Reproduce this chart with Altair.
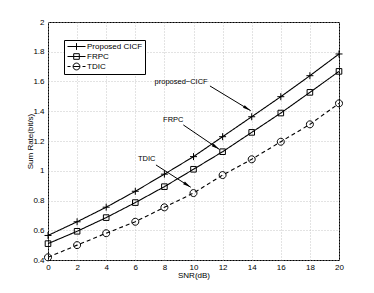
import altair as alt
import pandas as pd

# ---- data ----
snr = [0, 2, 4, 6, 8, 10, 12, 14, 16, 18, 20]
cicf = [0.565, 0.657, 0.755, 0.862, 0.977, 1.095, 1.229, 1.363, 1.498, 1.639, 1.785]
frpc = [0.51, 0.593, 0.685, 0.786, 0.893, 1.01, 1.128, 1.258, 1.388, 1.527, 1.668]
tdic = [0.418, 0.50, 0.58, 0.657, 0.754, 0.85, 0.971, 1.077, 1.195, 1.312, 1.453]
series_names = ["Proposed CICF", "FRPC", "TDIC"]

x_ticks = [0, 2, 4, 6, 8, 10, 12, 14, 16, 18, 20]
y_ticks = [0.4, 0.6, 0.8, 1.0, 1.2, 1.4, 1.6, 1.8, 2.0]

# annotations (text label, label position, arrow start, arrow tip)
ann_text = ["proposed\u2212CICF", "FRPC", "TDIC"]
ann_tx = [9.15, 8.61, 6.78]
ann_ty = [1.595, 1.341, 1.077]
arr_x1 = [11.13, 9.30, 7.42]
arr_y1 = [1.570, 1.308, 1.039]
arr_x2 = [13.93, 11.77, 9.81]
arr_y2 = [1.404, 1.144, 0.889]
arr_angle = [121.3, 124.0, 122.7]

rows = []
for name, vals in zip(series_names, [cicf, frpc, tdic]):
    for s, v in zip(snr, vals):
        rows.append({"series": name, "snr": s, "rate": v})
df = pd.DataFrame(rows)

ann = pd.DataFrame({"text": ann_text, "tx": ann_tx, "ty": ann_ty,
                    "x1": arr_x1, "y1": arr_y1, "x2": arr_x2, "y2": arr_y2,
                    "angle": arr_angle})

FONT = "Liberation Sans"

xaxis = alt.Axis(values=x_ticks, title="SNR(dB)", format="~g",
                 labelOverlap=False, labelFlush=False,
                 labelPadding=3, titlePadding=0)
yaxis = alt.Axis(values=y_ticks, title="Sum Rate(bit/s)", format="~g",
                 labelOverlap=False, labelFlush=False,
                 labelPadding=4, titlePadding=-2)
xscale = alt.Scale(domain=[0, 20], nice=False)
yscale = alt.Scale(domain=[0.4, 2], nice=False)

plus_p = "M-1,0L1,0M0,-1L0,1"
square_p = "M-0.8,-0.8L0.8,-0.8L0.8,0.8L-0.8,0.8Z"
circle_p = "M1,0A1,1 0 1,1 -1,0A1,1 0 1,1 1,0"

leg_plus = "M-2.25,0L2.25,0M0,-0.85L0,0.85"
leg_square = "M-2.25,0L2.25,0M-0.7,-0.7L0.7,-0.7L0.7,0.7L-0.7,0.7Z"
leg_circle = ("M-2.25,0L-1.5,0M-0.85,0L0.85,0M1.5,0L2.25,0"
              "M0.85,0A0.85,0.85 0 1,1 -0.85,0A0.85,0.85 0 1,1 0.85,0")

base = alt.Chart(df)

lines = base.mark_line(color="black", strokeWidth=1.1).encode(
    x=alt.X("snr:Q", scale=xscale, axis=xaxis),
    y=alt.Y("rate:Q", scale=yscale, axis=yaxis),
    strokeDash=alt.StrokeDash("series:N",
                              scale=alt.Scale(domain=series_names,
                                              range=[[1, 0], [1, 0], [4, 3]]),
                              legend=None),
)

points = base.mark_point(color="black", filled=False, strokeWidth=1, size=49,
                         opacity=1).encode(
    x=alt.X("snr:Q", scale=xscale, axis=xaxis),
    y=alt.Y("rate:Q", scale=yscale, axis=yaxis),
    shape=alt.Shape("series:N",
                    scale=alt.Scale(domain=series_names,
                                    range=[plus_p, square_p, circle_p]),
                    legend=None),
)

legend_layer = base.mark_point(color="black", filled=False, strokeWidth=1,
                               opacity=0).encode(
    x=alt.X("snr:Q", scale=xscale, axis=xaxis),
    y=alt.Y("rate:Q", scale=yscale, axis=yaxis),
    shape=alt.Shape("series:N",
                    scale=alt.Scale(domain=series_names,
                                    range=[leg_plus, leg_square, leg_circle]),
                    legend=alt.Legend(title=None, orient="none",
                                      legendX=16, legendY=18,
                                      symbolOpacity=1, symbolSize=64,
                                      symbolStrokeColor="black",
                                      symbolStrokeWidth=1,
                                      symbolFillColor="transparent",
                                      symbolOffset=6, labelOffset=6,
                                      labelFont=FONT, labelFontSize=8,
                                      labelColor="black",
                                      strokeColor="black", fillColor="white",
                                      padding=2, rowPadding=-1)),
)

ann_base = alt.Chart(ann)

arrows = ann_base.mark_rule(color="black", strokeWidth=1).encode(
    x=alt.X("x1:Q", scale=xscale, axis=xaxis),
    y=alt.Y("y1:Q", scale=yscale, axis=yaxis),
    x2="x2:Q", y2="y2:Q")

heads = ann_base.mark_point(
    shape="M0,0L0.32,1.6L-0.32,1.6Z", filled=True, color="black",
    size=100, opacity=1, strokeWidth=0).encode(
    x=alt.X("x2:Q", scale=xscale, axis=xaxis),
    y=alt.Y("y2:Q", scale=yscale, axis=yaxis),
    angle=alt.Angle("angle:Q", scale=None))

labels = ann_base.mark_text(font=FONT, fontSize=7.5, color="black",
                            align="center", baseline="middle").encode(
    x=alt.X("tx:Q", scale=xscale, axis=xaxis),
    y=alt.Y("ty:Q", scale=yscale, axis=yaxis),
    text="text:N")

chart = alt.layer(lines, points, legend_layer, arrows, heads, labels).resolve_scale(
    shape="independent"
).properties(
    width=291, height=238,
    autosize=alt.AutoSizeParams(type="none"),
    padding={"left": 40, "top": 14, "right": 20, "bottom": 30},
).configure_view(
    stroke="black", strokeWidth=1
).configure_axis(
    labelFont=FONT, titleFont=FONT, labelFontSize=8, titleFontSize=8,
    labelColor="black", titleColor="black", titleFontWeight="normal",
    ticks=False, domain=False, labelOverlap=False,
    gridColor="#b8b8b8", gridDash=[1, 2], gridWidth=0.8,
)

chart.save("out.html", embed_options={"renderer": "svg", "actions": False})
